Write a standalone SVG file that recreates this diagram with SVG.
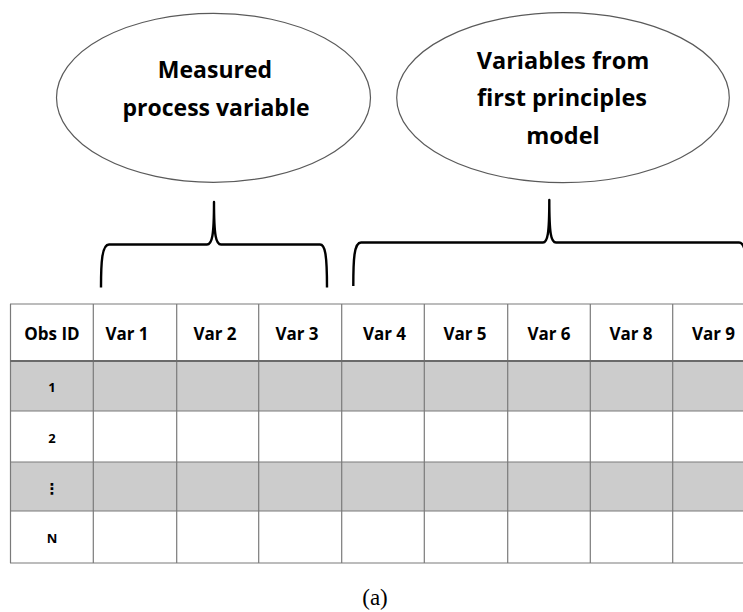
<svg xmlns="http://www.w3.org/2000/svg" width="743" height="612" viewBox="0 0 743 612">
  <style>
    .bubble { fill: #ffffff; stroke: #5a5a5a; stroke-width: 1.2; }
    .bubble-text { font-family: "Open Sans", "Liberation Sans", sans-serif; font-weight: bold; font-size: 23px; fill: #000; text-anchor: middle; }
    .brace { fill: none; stroke: #000; stroke-width: 2.4; stroke-linejoin: round; stroke-linecap: butt; }
    .grid { stroke: #7a7a7a; stroke-width: 1.2; fill: none; }
    .head-rule { stroke: #6a6a6a; stroke-width: 2; }
    .shade { fill: #cccccc; }
    .head { font-family: "Open Sans", "Liberation Sans", sans-serif; font-weight: bold; font-size: 17px; fill: #000; text-anchor: middle; }
    .rowid { font-family: "Open Sans", "Liberation Sans", sans-serif; font-weight: bold; font-size: 13px; fill: #000; text-anchor: middle; }
    .caption { font-family: "Liberation Serif", "DejaVu Serif", serif; font-size: 23px; fill: #000; text-anchor: middle; }
  </style>

  <rect width="743" height="612" fill="#ffffff"/>

  <!-- label bubbles -->
  <g id="measured">
    <ellipse class="bubble" cx="213.5" cy="97.8" rx="157" ry="84.5"/>
    <text class="bubble-text" x="215" y="78">Measured</text>
    <text class="bubble-text" x="216" y="115.5">process variable</text>
  </g>

  <g id="first-principles">
    <ellipse class="bubble" cx="563" cy="97.7" rx="166.3" ry="85"/>
    <text class="bubble-text" x="563" y="69" style="font-size: 23.5px">Variables from</text>
    <text class="bubble-text" x="562" y="106" style="font-size: 23.5px">first principles</text>
    <text class="bubble-text" x="563" y="144" style="font-size: 23.5px">model</text>
  </g>

  <!-- braces grouping the columns -->
  <g id="connectors">
    <path class="brace" d="M101,287.5 C101,262 102,244.5 109,244.5 L207,244.5 C212,244.5 214,236 214,202 C214,236 216,244.5 221,244.5 L320,244.5 C325,244.5 327,254 327,287.5"/>
    <path class="brace" d="M353.3,286 C353.3,260 354,242.5 361,242.5 L543,242.5 C547.5,242.5 549.3,234 549.3,200 C549.3,234 551,242.5 556,242.5 L739,242.5 C742,242.5 744,246 745,252"/>
  </g>

  <!-- data table -->
  <g id="table">
    <rect class="shade" x="10" y="361" width="740" height="50"/>
    <rect class="shade" x="10" y="462" width="740" height="49"/>

    <g class="grid">
      <line x1="10" y1="304" x2="743" y2="304"/>
      <line x1="10" y1="411" x2="743" y2="411"/>
      <line x1="10" y1="462" x2="743" y2="462"/>
      <line x1="10" y1="511" x2="743" y2="511"/>
      <line x1="10" y1="563" x2="743" y2="563"/>
      <line x1="10.5" y1="304" x2="10.5" y2="563"/>
      <line x1="93.3" y1="304" x2="93.3" y2="563"/>
      <line x1="176.7" y1="304" x2="176.7" y2="563"/>
      <line x1="258.7" y1="304" x2="258.7" y2="563"/>
      <line x1="341.7" y1="304" x2="341.7" y2="563"/>
      <line x1="424.3" y1="304" x2="424.3" y2="563"/>
      <line x1="507.7" y1="304" x2="507.7" y2="563"/>
      <line x1="590.3" y1="304" x2="590.3" y2="563"/>
      <line x1="672.7" y1="304" x2="672.7" y2="563"/>
    </g>
    <line class="head-rule" x1="10" y1="361" x2="743" y2="361"/>

    <text class="head" x="52" y="339.5">Obs ID</text>
    <text class="head" x="127" y="339.5">Var 1</text>
    <text class="head" x="215" y="339.5">Var 2</text>
    <text class="head" x="297" y="339.5">Var 3</text>
    <text class="head" x="384.5" y="339.5">Var 4</text>
    <text class="head" x="465" y="339.5">Var 5</text>
    <text class="head" x="549" y="339.5">Var 6</text>
    <text class="head" x="631" y="339.5">Var 8</text>
    <text class="head" x="713.5" y="339.5">Var 9</text>

    <text class="rowid" x="52" y="391.5">1</text>
    <text class="rowid" x="52" y="442.5">2</text>
    <text class="rowid" x="52" y="494" style="font-family: 'DejaVu Sans', sans-serif; font-size: 15px;">⋮</text>
    <text class="rowid" x="52" y="542.5">N</text>
  </g>

  <text class="caption" x="375" y="605">(a)</text>
</svg>
